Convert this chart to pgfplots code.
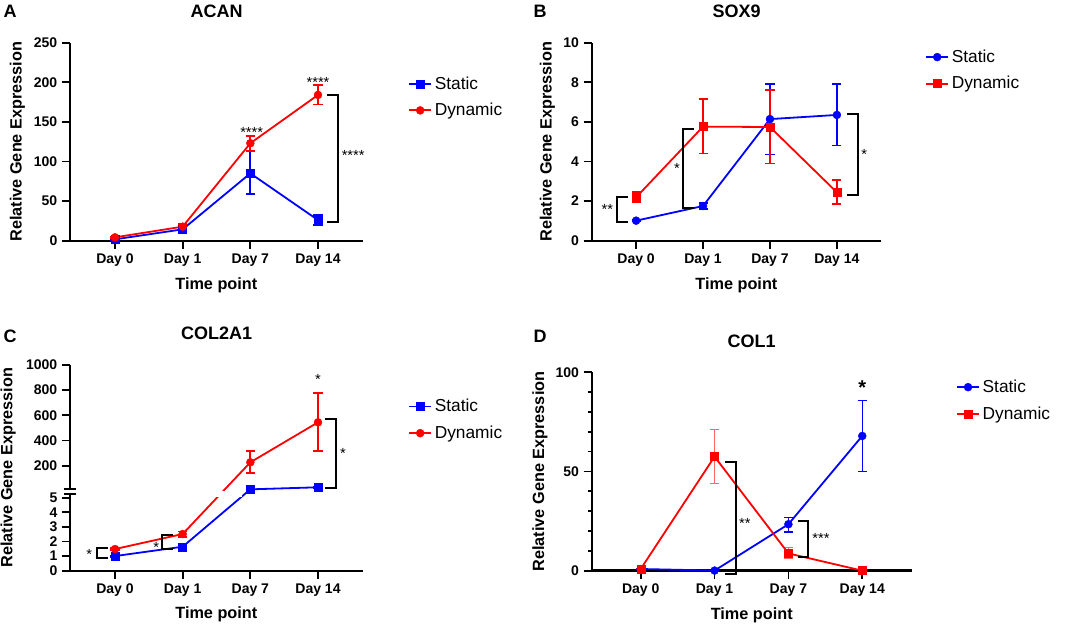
\documentclass[border=0pt]{standalone}
\usepackage{fontspec}
\setmainfont{Liberation Sans}
\usepackage{pgfplots}
\pgfplotsset{compat=1.18}

\definecolor{pblue}{RGB}{0,0,255}
\definecolor{pred}{RGB}{255,0,0}

\pgfplotsset{
 prism/.style={
   scale only axis,
   axis lines=left,
   axis line style={-, line width=1.5pt},
   tick style={black, line width=1.3pt},
   major tick length=6pt,
   minor tick length=3pt,
   tick align=outside,
   clip=false,
   xtick={0,1,2,3},
   xticklabels={Day 0, Day 1, Day 7, Day 14},
   ticklabel style={font=\bfseries\fontsize{10.5}{12}\selectfont},
   /pgf/number format/assume math mode=true,
   xlabel={Time point},
   ylabel={Relative Gene Expression},
   legend style={draw=none, fill=none, font=\fontsize{13}{15}\selectfont, inner sep=0pt, row sep=5pt},
   legend cell align=left,
   legend image code/.code={\draw[mark repeat=2,mark phase=2,##1] plot coordinates {(0pt,0pt)(8.25pt,0pt)(16.5pt,0pt)};},
 },
 ylab/.style={every axis y label/.style={at={(axis description cs:#1,0.5)}, rotate=90, anchor=center, font=\bfseries\fontsize{12.2}{14}\selectfont}},
 xlab/.style={every axis x label/.style={at={(axis description cs:0.5,#1)}, anchor=center, font=\bfseries\fontsize{12.2}{14}\selectfont}},
 sq/.style={mark=square*, mark size=3pt},
 ci/.style={mark=*, mark size=3pt},
 dat/.style={color=#1, line width=1.35pt, mark options={line width=0.3pt},
   error bars/y dir=both, error bars/y explicit,
   error bars/error bar style={line width=1.3pt, color=#1},
   error bars/error mark options={rotate=90, mark size=3.4pt, line width=1.3pt, color=#1}},
}
\tikzset{
 brk/.style={line width=1.5pt},
 stars/.style={font=\fontsize{11}{12}\selectfont, inner sep=0pt, yshift=-2.3pt},
 ttl/.style={font=\bfseries\fontsize{13.5}{15}\selectfont},
 lett/.style={font=\bfseries\fontsize{13.5}{15}\selectfont},
}

\begin{document}
\begin{tikzpicture}[x=0.75pt,y=0.75pt]
\path[use as bounding box] (0,0) rectangle (1065,626);

% ---------------- Panel A ----------------
\node[lett] at (10,614.8) {A};
\node[ttl] at (216.7,614.8) {ACAN};
\begin{axis}[prism, at={(52.5pt,289pt)}, anchor=south west,
  width=219.5pt, height=148.5pt,
  xmin=-0.665, xmax=3.66, ymin=0, ymax=250, ytick={0,50,...,250},
  ylab=-0.18, xlab=-0.2236,
  legend style={at={(1.155,0.725)}, anchor=west}]
\addplot[dat=pblue, sq] coordinates {
 (0,1.7) +- (0,0.5)
 (1,14.3) +- (0,2)
 (2,85) += (0,28.5) -= (0,26.5)
 (3,26) +- (0,6)
};
\addlegendentry{Static}
\addplot[dat=pred, ci] coordinates {
 (0,4.2) +- (0,0.5)
 (1,17.7) +- (0,3.5)
 (2,123) += (0,9) -= (0,9.5)
 (3,184) += (0,12.5) -= (0,12)
};
\addlegendentry{Dynamic}
\draw[brk] (axis cs:3.13,184) -- (axis cs:3.29,184) -- (axis cs:3.29,24) -- (axis cs:3.13,24);
\node[stars] at (axis cs:3.52,111) {****};
\node[stars] at (axis cs:2.02,140) {****};
\node[stars] at (axis cs:3,204) {****};
\end{axis}

% ---------------- Panel B ----------------
\node[lett] at (540,614.8) {B};
\node[ttl] at (736.7,614.8) {SOX9};
\begin{axis}[prism, at={(443.8pt,289pt)}, anchor=south west,
  width=217pt, height=148.5pt,
  xmin=-0.663, xmax=3.66, ymin=0, ymax=10, ytick={0,2,...,10},
  ylab=-0.1535, xlab=-0.2236,
  legend style={at={(1.152,0.86)}, anchor=west}]
\addplot[dat=pblue, ci] coordinates {
 (0,1.01) +- (0,0.03)
 (1,1.75) +- (0,0.15)
 (2,6.14) += (0,1.76) -= (0,1.79)
 (3,6.35) += (0,1.55) -= (0,1.55)
};
\addlegendentry{Static}
\addplot[dat=pred, sq] coordinates {
 (0,2.19) +- (0,0.25)
 (1,5.76) += (0,1.39) -= (0,1.36)
 (2,5.74) += (0,1.86) -= (0,1.84)
 (3,2.44) += (0,0.61) -= (0,0.59)
};
\addlegendentry{Dynamic}
\draw[brk] (axis cs:-0.115,2.19) -- (axis cs:-0.28,2.19) -- (axis cs:-0.28,0.93) -- (axis cs:-0.115,0.93);
\node[stars] at (axis cs:-0.43,1.72) {**};
\draw[brk] (axis cs:0.87,5.64) -- (axis cs:0.707,5.64) -- (axis cs:0.707,1.63) -- (axis cs:0.87,1.63);
\node[stars] at (axis cs:0.61,3.79) {*};
\draw[brk] (axis cs:3.15,6.38) -- (axis cs:3.31,6.38) -- (axis cs:3.31,2.31) -- (axis cs:3.15,2.31);
\node[stars] at (axis cs:3.41,4.49) {*};
\end{axis}

% ---------------- Panel C (broken axis: 0-5 linear, then 200-1000) ----------------
\node[lett] at (10,289.3) {C};
\node[ttl] at (216.7,292.7) {COL2A1};
\begin{axis}[prism, at={(52.5pt,41.5pt)}, anchor=south west,
  width=219.5pt, height=154.3pt,
  xmin=-0.665, xmax=3.66, ymin=0, ymax=14.09,
  ytick={0,1,2,3,4,5,7.19,8.915,10.64,12.365,14.09},
  yticklabels={0,1,2,3,4,5,200,400,600,800,1000},
  y axis line style={draw=none},
  ylab=-0.211, xlab=-0.212,
  legend style={at={(1.155,0.733)}, anchor=west}]
\addplot[dat=pblue, sq] coordinates {
 (0,1.0) +- (0,0.04)
 (1,1.64) +- (0,0.1)
 (2,5.57) +- (0,0.02)
 (3,5.71) +- (0,0.03)
};
\addlegendentry{Static}
\addplot[dat=pred, ci] coordinates {
 (0,1.48) +- (0,0.05)
 (1,2.51) +- (0,0.18)
 (2,7.42) += (0,0.754) -= (0,0.753)
 (3,10.16) += (0,1.99) -= (0,1.94)
};
\addlegendentry{Dynamic}
\fill[white] (axis cs:1.3,5.05) rectangle (axis cs:1.88,5.45);
\draw[line width=1.5pt] (axis cs:-0.665,0) -- (axis cs:-0.665,5.25);
\draw[line width=1.5pt] (axis cs:-0.665,5.6) -- (axis cs:-0.665,14.09);
\draw[line width=1.2pt] (axis cs:-0.754,5.25) -- (axis cs:-0.576,5.25);
\draw[line width=1.2pt] (axis cs:-0.754,5.6) -- (axis cs:-0.576,5.6);
\draw[brk] (axis cs:-0.11,1.53) -- (axis cs:-0.27,1.53) -- (axis cs:-0.27,0.845) -- (axis cs:-0.11,0.845);
\node[stars] at (axis cs:-0.38,1.35) {*};
\draw[brk] (axis cs:0.86,2.44) -- (axis cs:0.70,2.44) -- (axis cs:0.70,1.48) -- (axis cs:0.86,1.48);
\node[stars] at (axis cs:0.61,1.80) {*};
\draw[brk] (axis cs:3.10,10.39) -- (axis cs:3.27,10.39) -- (axis cs:3.27,5.64) -- (axis cs:3.10,5.64);
\node[stars] at (axis cs:3.37,8.26) {*};
\node[stars] at (axis cs:3,13.33) {*};
\end{axis}

% ---------------- Panel D ----------------
\node[lett] at (540,289.3) {D};
\node[ttl] at (751.7,284.3) {COL1};
\begin{axis}[prism, at={(443.8pt,41.5pt)}, anchor=south west,
  width=240pt, height=148.8pt,
  xmin=-0.663, xmax=3.67, ymin=0, ymax=100,
  ytick={0,50,100}, minor ytick={10,20,30,40,60,70,80,90},
  x axis line style={line width=2.2pt},
  ylab=-0.1617, xlab=-0.2231,
  legend style={at={(1.138,0.858)}, anchor=west}]
\addplot[dat=pblue, ci, error bars/error bar style={line width=0.8pt}, error bars/error mark options={rotate=90, mark size=3.5pt, line width=0.8pt}] coordinates {
 (0,0.84) +- (0,0)
 (1,0.05) +- (0,0)
 (2,23.4) += (0,3.6) -= (0,3.9)
 (3,67.9) += (0,18.1) -= (0,18)
};
\addlegendentry{Static}
\addplot[dat=pred, sq, error bars/error bar style={line width=0.8pt, opacity=0.6}, error bars/error mark options={rotate=90, mark size=3.5pt, line width=0.8pt, opacity=0.6}] coordinates {
 (0,0.84) +- (0,0)
 (1,57.5) += (0,13.5) -= (0,13.5)
 (2,8.7) += (0,2.9) -= (0,2.4)
 (3,0) +- (0,0)
};
\addlegendentry{Dynamic}
\draw[brk] (axis cs:1.14,55) -- (axis cs:1.285,55) -- (axis cs:1.285,-1.85) -- (axis cs:1.14,-1.85);
\node[stars] at (axis cs:1.41,25.2) {**};
\draw[brk] (axis cs:2.13,25.2) -- (axis cs:2.26,25.2) -- (axis cs:2.26,6.7) -- (axis cs:2.13,6.7);
\node[stars] at (axis cs:2.44,17.6) {***};
\node[font=\bfseries\fontsize{15}{16}\selectfont, inner sep=0pt, yshift=-3pt] at (axis cs:3,94.1) {*};
\end{axis}
\end{tikzpicture}
\end{document}
